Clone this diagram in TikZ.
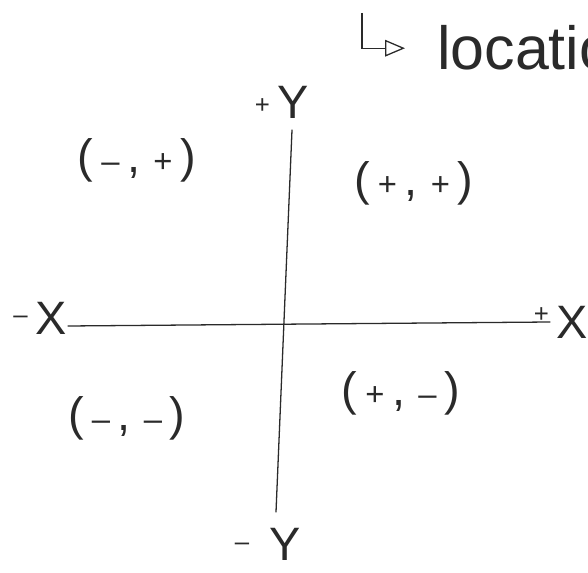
\documentclass[tikz,border=0pt]{standalone}
\usepackage{fontspec}
\setmainfont{Liberation Sans}
\usetikzlibrary{arrows.meta}
\definecolor{skInk}{HTML}{2A2A2A}
\newcommand{\sksign}[2]{\raisebox{#1}{\fontsize{22}{22}\selectfont #2}}
\newcommand{\skpm}[1]{{\fontsize{28}{28}\selectfont #1}}
\tikzset{
  sk axis/.style={draw=skInk, line width=1.1pt, line cap=round},
  sk arrow/.style={draw=skInk, line width=1.1pt, -{Triangle[open,length=6mm,width=5mm]}},
  sk axis label/.style={font=\fontsize{40}{40}\selectfont, text=skInk, inner sep=0pt},
  sk pair/.style={font=\fontsize{40}{40}\selectfont, text=skInk, inner sep=0pt},
  sk note/.style={font=\fontsize{52}{52}\selectfont, text=skInk, inner sep=0pt, anchor=base west},
}
\begin{document}
\begin{tikzpicture}[x=0.03cm,y=-0.03cm]
\clip(0,0)rectangle(588,573);
% axes
\coordinate(xl)at(68,326);\coordinate(xr)at(550,322);
\coordinate(yt)at(292,130);\coordinate(yb)at(276,512);
\draw[sk axis](xl)--(xr);
\draw[sk axis](yt)--(yb);
% axis names
\node[sk axis label](pY)at(282,102){\sksign{4pt}{+}\,Y};
\node[sk axis label](mX)at(40,318){\sksign{9pt}{--}\,X};
\node[sk axis label](pX)at(561,322){\sksign{13pt}{+}\,X};
\node[sk axis label](mY)at(268,544){\sksign{8pt}{--}\;\,Y};
% quadrants
\node[sk pair](qII)at(137,160){(\,\skpm{--}\,,\;\skpm{+}\,)};
\node[sk pair](qI)at(414,183){(\,\skpm{+}\,,\;\skpm{+}\,)};
\node[sk pair](qIII)at(127,418){(\,\skpm{--}\,,\;\skpm{--}\,)};
\node[sk pair](qIV)at(401,393){(\,\skpm{+}\,,\;\skpm{--}\,)};
% note
\node[sk note](loc)at(437,70){location};
\coordinate(bend)at(362,13);
\draw[sk arrow,shorten >=9.6mm](bend)|-(loc.west);
\end{tikzpicture}
\end{document}
